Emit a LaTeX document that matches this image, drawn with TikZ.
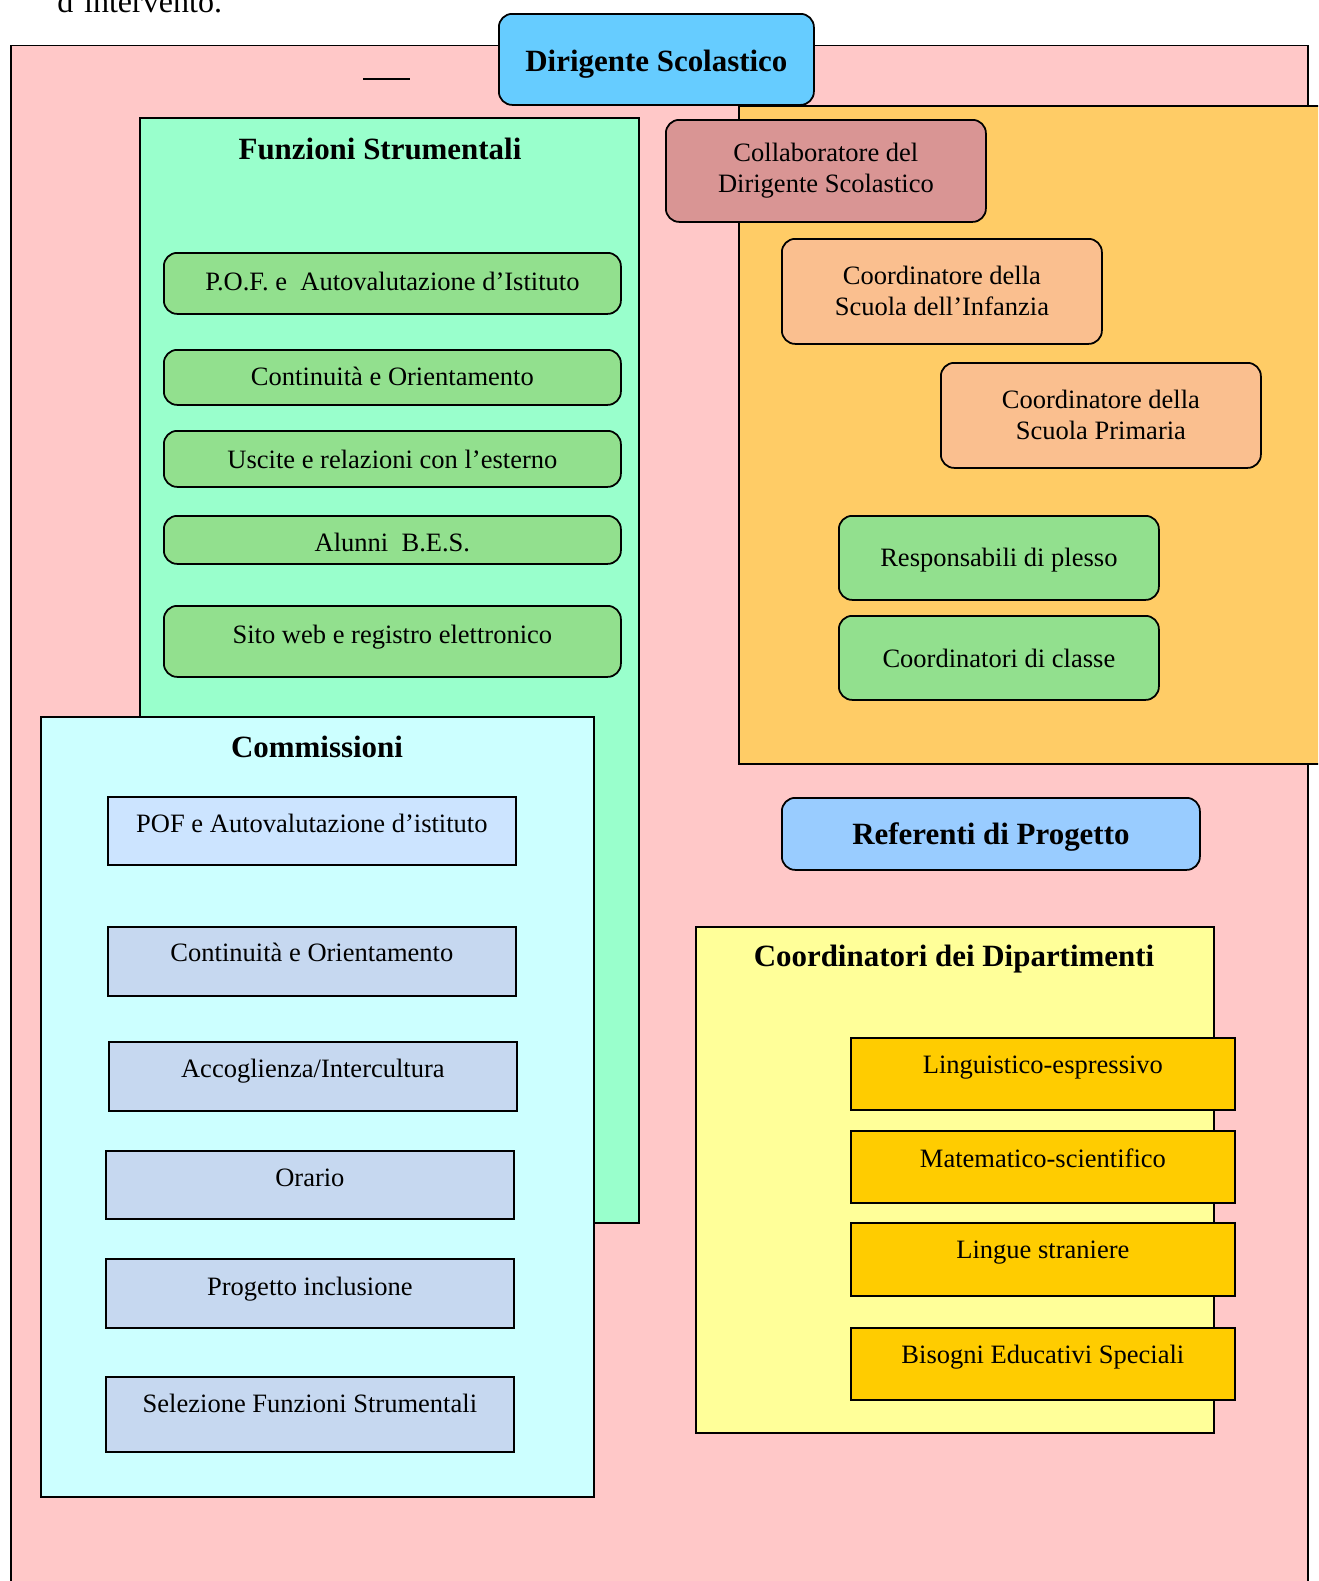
\documentclass[tikz,border=0pt]{standalone}
\usepackage{fontspec}
\setmainfont{Liberation Serif}
\newdimen\unitpx
\unitpx=0.4525pt
\definecolor{pinkbg}{HTML}{FFC8C8}
\definecolor{dsblue}{HTML}{66CCFF}
\definecolor{fsgreen}{HTML}{99FFCC}
\definecolor{itemgreen}{HTML}{92E08E}
\definecolor{comcyan}{HTML}{CCFFFF}
\definecolor{comfirst}{HTML}{CCE4FF}
\definecolor{comblue}{HTML}{C6D8F0}
\definecolor{staffor}{HTML}{FFCC66}
\definecolor{collrose}{HTML}{D99594}
\definecolor{coordor}{HTML}{FABF8F}
\definecolor{refblue}{HTML}{99CCFF}
\definecolor{dipyellow}{HTML}{FFFF99}
\definecolor{dipgold}{HTML}{FFCC00}
\newcommand{\titlefont}{\fontsize{14}{16}\selectfont\bfseries}
\newcommand{\bodyfont}{\fontsize{12}{14}\selectfont}

\begin{document}
\begin{tikzpicture}[
  x=0.4525pt, y=-0.4525pt,
  every node/.style={font=\bodyfont, inner sep=0pt, anchor=north west},
  frame/.style={draw, line width=0.8pt},
  rbox/.style={draw, line width=0.8pt, rounded corners=6pt},
  tb/.style 2 args={text height=#1\unitpx, text depth=#2\unitpx},
  title/.style={font=\titlefont, anchor=center},
  fsitem/.style={rbox, fill=itemgreen, minimum width=457\unitpx},
  comitem/.style={frame, fill=comblue, minimum width=408\unitpx},
  dipitem/.style={frame, fill=dipgold, minimum width=384\unitpx},
  twoline/.style={rbox, align=center, minimum width=320\unitpx, minimum height=104\unitpx}
]
\clip (0,0) rectangle (1318,1581);
\node[anchor=base west, font=\fontsize{14.5}{16}\selectfont] (prev) at (57,12) {d’intervento.};
\node[frame, fill=pinkbg, minimum width=1297\unitpx, minimum height=1600\unitpx] (all) at (10,44.5) {};
\draw[line width=0.9pt] (363,79) -- (410,79);
\node[frame, fill=staffor, minimum width=620\unitpx, minimum height=658\unitpx] (staff) at (738,105) {};
\node[rbox, fill=dsblue, font=\titlefont, minimum width=315\unitpx, tb={58}{33}] (ds) at (498,13) {Dirigente Scolastico};

\node[frame, fill=fsgreen, minimum width=499\unitpx, minimum height=1105\unitpx] (fs) at (139,117) {};
\node[title] (fstitle) at (380,149) {Funzioni Strumentali};
\node[fsitem, tb={38}{23}] (fspof) at (163,252) {P.O.F. e\ \ Autovalutazione d’Istituto};
\node[fsitem, tb={36}{19}] (fscont) at (163,349) {Continuità e Orientamento};
\node[fsitem, tb={38}{18}] (fsusc) at (163,430) {Uscite e relazioni con l’esterno};
\node[fsitem, tb={36}{12}] (fsbes) at (163,515) {Alunni\ \ B.E.S.};
\node[fsitem, tb={38}{33}] (fsweb) at (163,605) {Sito web e registro elettronico};

\node[frame, fill=comcyan, minimum width=553\unitpx, minimum height=780\unitpx] (com) at (40,716) {};
\node[title] (comtitle) at (317,747) {Commissioni};
\node[comitem, fill=comfirst, tb={36}{32}] (compof) at (107,796) {POF e Autovalutazione d’istituto};
\node[comitem, tb={35}{34}] (comcont) at (107,926) {Continuità e Orientamento};
\node[comitem, tb={36}{33}] (comacc) at (108,1041) {Accoglienza/Intercultura};
\node[comitem, tb={36}{32}] (comorario) at (105,1150) {Orario};
\node[comitem, tb={37}{32}] (comincl) at (105,1258) {Progetto inclusione};
\node[comitem, tb={36}{39}] (comsel) at (105,1376) {Selezione Funzioni Strumentali};

\node[twoline, fill=collrose, minimum height=102\unitpx] (coll) at (665,119) {Collaboratore del\\Dirigente Scolastico};
\node[twoline, fill=coordor, minimum height=105\unitpx] (infanzia) at (781,238) {Coordinatore della\\Scuola dell’Infanzia};
\node[twoline, fill=coordor, minimum height=105\unitpx] (primaria) at (940,362) {Coordinatore della\\Scuola Primaria};
\node[rbox, fill=itemgreen, minimum width=320\unitpx, tb={51}{33}] (plesso) at (838,515) {Responsabili di plesso};
\node[rbox, fill=itemgreen, minimum width=320\unitpx, tb={52}{32}] (classe) at (838,615) {Coordinatori di classe};

\node[rbox, fill=refblue, font=\titlefont, minimum width=418\unitpx, tb={47}{25}] (ref) at (781,797) {Referenti di Progetto};

\node[frame, fill=dipyellow, minimum width=518\unitpx, minimum height=506\unitpx] (dip) at (695,926) {};
\node[title] (diptitle) at (954,959) {Coordinatori dei Dipartimenti};
\node[dipitem, tb={36}{36}] (diplin) at (850,1037) {Linguistico-espressivo};
\node[dipitem, tb={37}{35}] (dipmat) at (850,1130) {Matematico-scientifico};
\node[dipitem, tb={36}{37}] (dipstr) at (850,1222) {Lingue straniere};
\node[dipitem, tb={36}{36}] (dipbes) at (850,1327) {Bisogni Educativi Speciali};
\end{tikzpicture}
\end{document}
